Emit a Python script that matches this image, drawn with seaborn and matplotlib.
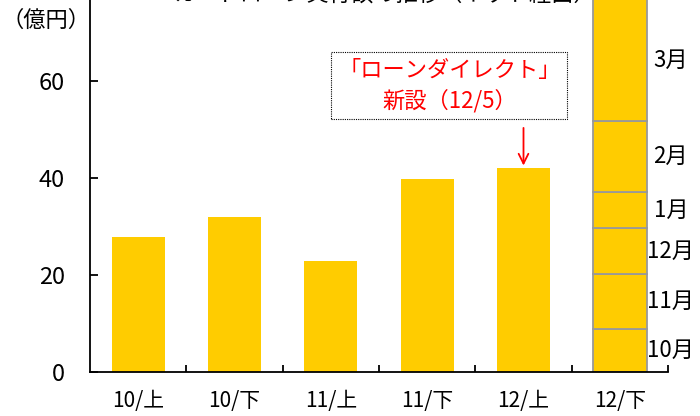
import pandas as pd
import seaborn as sns
import matplotlib.pyplot as plt

# half-year categories and values (億円)
periods = ['10/上', '10/下', '11/上', '11/下', '12/上', '12/下']
amounts = [27.8, 32.0, 22.9, 39.8, 42.0]

# monthly breakdown of the last bar
months = ['10月', '11月', '12月', '1月', '2月', '3月']
month_amounts = [8.9, 11.3, 9.4, 7.5, 14.6, 26.0]

bar_color = '#FFCC00'
ymax = 76.7

plt.rcParams['font.family'] = ['Noto Sans CJK JP', 'DejaVu Sans']

fig = plt.figure(figsize=(7, 4.16), dpi=100)
ax = fig.add_axes([90 / 700, 44 / 416, 578 / 700, 1 - 44 / 416])

df = pd.DataFrame({'period': periods[:5], 'amount': amounts})
sns.barplot(data=df, x='period', y='amount', order=periods, color=bar_color,
            saturation=1, width=0.55, errorbar=None, ax=ax)

# stacked bar for 12/下
bottom = 0
for m, v in zip(months, month_amounts):
    ax.bar(5, v, bottom=bottom, width=0.56, color=bar_color,
           edgecolor='#999999', linewidth=1.3)
    mid = bottom + v / 2
    if bottom + v > ymax:
        mid = (bottom + ymax) / 2
    ax.text(5.53, mid, m, ha='center', va='center', fontsize=16, clip_on=False)
    bottom += v

ax.set_xlim(-0.5, 5.5)
ax.set_ylim(0, ymax)
ax.set_yticks([0, 20, 40, 60])
ax.set_xlabel('')
ax.set_ylabel('')
ax.set_xticks([i + 0.5 for i in range(6)], minor=True)
ax.tick_params(axis='x', which='major', length=0, pad=13, labelsize=15)
ax.tick_params(axis='x', which='minor', direction='in', length=5, width=1.3)
ax.tick_params(axis='y', direction='in', length=6, width=1.3, pad=18, labelsize=17)
for s in ['top', 'right']:
    ax.spines[s].set_visible(False)
for s in ['left', 'bottom']:
    ax.spines[s].set_linewidth(1.3)
    ax.spines[s].set_color('black')

# annotation
ax.annotate('', xy=(4, 42), xytext=(4, 50.9),
            arrowprops=dict(arrowstyle='->,head_length=0.7,head_width=0.35',
                            color='red', lw=1.3))
ax.text(3.23, 59, '「ローンダイレクト」\n新設（12/5）', ha='center', va='center',
        color='red', fontsize=16, linespacing=1.4,
        bbox=dict(boxstyle='square,pad=0.3', fc='white', ec='black',
                  ls=(0, (1, 1)), lw=0.8))

fig.text(46 / 700, 1 - 20 / 416, '（億円）', ha='center', va='center', fontsize=16)
fig.text(385 / 700, 1 - 6 / 416, 'カードローン実行額の推移（ネット経由）',
         ha='center', va='bottom', fontsize=16)

plt.savefig('out.png', dpi=100)
